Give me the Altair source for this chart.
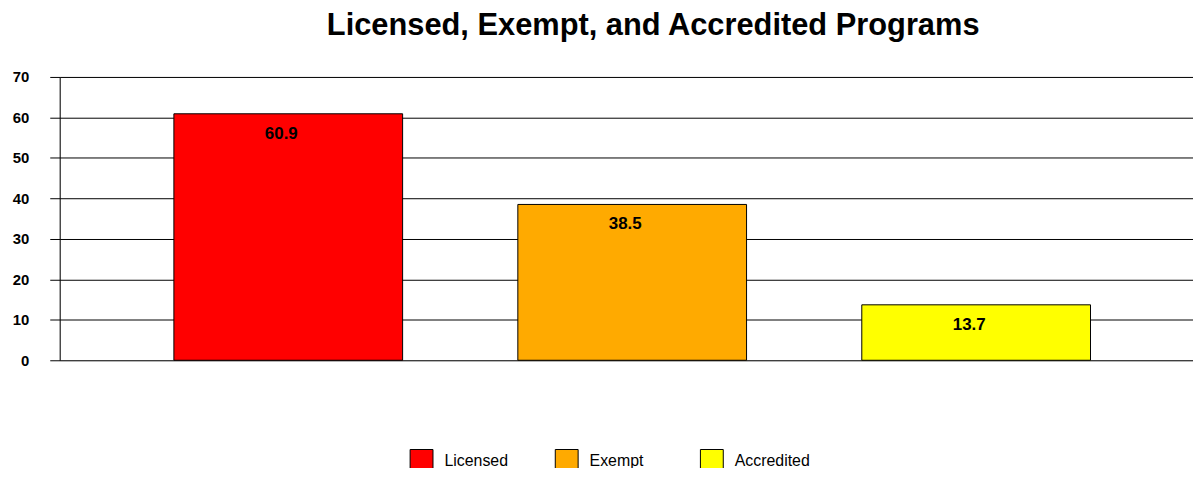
import altair as alt
import pandas as pd

categories = ["Licensed", "Exempt", "Accredited"]
values = [60.9, 38.5, 13.7]
colors = ["#FF0000", "#FFAA00", "#FFFF00"]
labels = ["60.9", "38.5", "13.7"]
y_ticks = [0, 10, 20, 30, 40, 50, 60, 70]

df = pd.DataFrame({"Program": categories, "Value": values, "Label": labels})

FONT = "Liberation Sans"

x_scale = alt.Scale(paddingInner=0.335, paddingOuter=0.315, align=0.527)

x_enc = alt.X("Program:N", sort=categories, axis=None, scale=x_scale)
y_enc = alt.Y("Value:Q",
              scale=alt.Scale(domain=[0, 70], nice=False),
              axis=alt.Axis(values=y_ticks, title=None, grid=True, gridColor="black",
                            gridWidth=1, gridOpacity=1, domainColor="black", domainWidth=1,
                            tickColor="black", tickSize=10, tickWidth=1,
                            labelFont=FONT, labelFontSize=15, labelFontWeight="bold",
                            labelColor="black", labelPadding=21))

bars = alt.Chart(df).mark_bar(stroke="black", strokeWidth=1, opacity=1).encode(
    x=x_enc,
    y=y_enc,
    fill=alt.Fill("Program:N",
                  scale=alt.Scale(domain=categories, range=colors),
                  legend=alt.Legend(title=None, orient="none", legendX=352, legendY=374,
                                    direction="horizontal", columns=3, gridAlign="all",
                                    columnPadding=33, padding=0,
                                    symbolType="square", symbolSize=529,
                                    symbolStrokeColor="black", symbolStrokeWidth=1,
                                    symbolOpacity=1, labelOffset=11,
                                    labelFont=FONT, labelFontSize=16, labelColor="black")),
)

text = alt.Chart(df).mark_text(baseline="middle", dy=20, dx=-7, font=FONT, fontSize=17,
                               fontWeight="bold", color="black").encode(
    x=alt.X("Program:N", sort=categories, scale=x_scale),
    y=alt.Y("Value:Q"),
    text="Label:N",
)

chart = alt.layer(bars, text).properties(
    width=1140,
    height=285,
    title=alt.TitleParams("Licensed, Exempt, and Accredited Programs", font=FONT,
                          fontSize=31, fontWeight="bold", color="black",
                          anchor="middle", baseline="alphabetic", dx=27, offset=4),
    autosize=alt.AutoSizeParams(type="none"),
    padding={"left": 52, "top": 68, "right": 0, "bottom": 107},
).configure_view(stroke=None).configure(background="white")

chart.save("out.html", embed_options={"renderer": "svg", "actions": False})
